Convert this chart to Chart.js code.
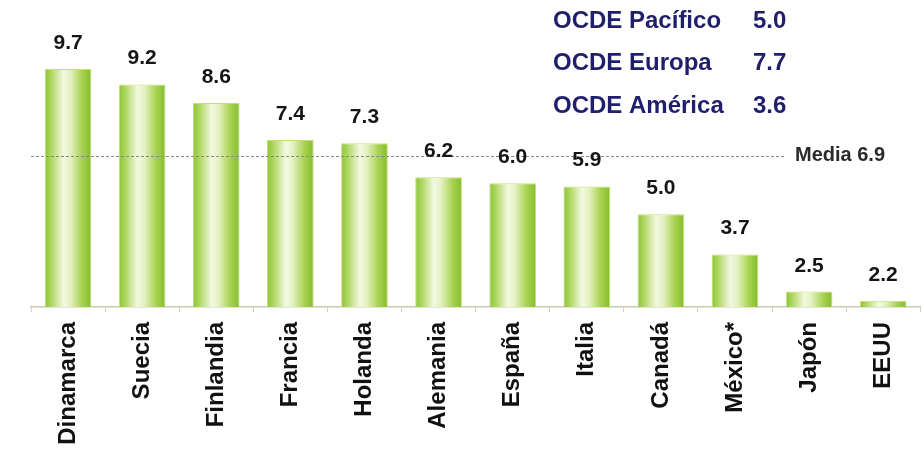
<!DOCTYPE html>
<html>
<head>
<meta charset="utf-8">
<script src="https://cdn.jsdelivr.net/npm/chart.js@4/dist/chart.umd.min.js"></script>
<style>
  html, body { margin: 0; padding: 0; background: #ffffff; }
  #wrap { position: relative; width: 922px; height: 450px; }
</style>
</head>
<body>
<div id="wrap"><canvas id="c" width="922" height="450"></canvas></div>
<script>
// Countries and their values
const countries = ['Dinamarca', 'Suecia', 'Finlandia', 'Francia', 'Holanda', 'Alemania',
                   'España', 'Italia', 'Canadá', 'México*', 'Japón', 'EEUU'];
const values = [9.7, 9.2, 8.6, 7.4, 7.3, 6.2, 6.0, 5.9, 5.0, 3.7, 2.5, 2.2];

// Regional averages shown in the corner box
const regionNames = ['OCDE Pacífico', 'OCDE Europa', 'OCDE América'];
const regionValues = [5.0, 7.7, 3.6];

// Overall mean
const meanLabel = 'Media';
const meanValue = 6.9;

const FONT = "'Liberation Sans', Arial, Helvetica, sans-serif";
const BAR_PCT = 0.63;

// Horizontal cylinder-like shading, one gradient per bar
function barFill(c) {
  if (c.type !== 'data') return '#a8d250';
  const xs = c.chart.scales.x;
  if (!xs || !isFinite(xs.width)) return '#a8d250';
  const cx = xs.getPixelForValue(c.dataIndex);
  const w = (xs.width / countries.length) * BAR_PCT;
  const g = c.chart.ctx.createLinearGradient(cx - w / 2, 0, cx + w / 2, 0);
  g.addColorStop(0.00, '#8cc43a');
  g.addColorStop(0.12, '#a9d457');
  g.addColorStop(0.40, '#f3f9e2');
  g.addColorStop(0.55, '#e4f1c2');
  g.addColorStop(0.80, '#a8d250');
  g.addColorStop(1.00, '#84bd2c');
  return g;
}

// Mean line, value labels and regional box
const annotations = {
  id: 'annotations',
  afterDatasetsDraw(chart) {
    const ctx = chart.ctx;
    const y = chart.scales.y;
    const area = chart.chartArea;

    // dotted mean line
    const ym = Math.round(y.getPixelForValue(meanValue)) + 0.5;
    ctx.save();
    ctx.strokeStyle = '#8a8a80';
    ctx.lineWidth = 1.2;
    ctx.setLineDash([3, 2]);
    ctx.beginPath();
    ctx.moveTo(area.left, ym);
    ctx.lineTo(784, ym);
    ctx.stroke();
    ctx.setLineDash([]);
    ctx.fillStyle = '#2a2a2a';
    ctx.font = 'bold 20px ' + FONT;
    ctx.textAlign = 'left';
    ctx.textBaseline = 'alphabetic';
    ctx.fillText(meanLabel + ' ' + meanValue.toFixed(1), 795, ym + 4);

    // value labels above bars
    ctx.fillStyle = '#151515';
    ctx.font = 'bold 21px ' + FONT;
    ctx.textAlign = 'center';
    chart.getDatasetMeta(0).data.forEach((el, i) => {
      ctx.fillText(values[i].toFixed(1), el.x, el.y - 20);
    });

    // regional averages
    ctx.fillStyle = '#1f1f6b';
    ctx.font = 'bold 24px ' + FONT;
    ctx.textAlign = 'left';
    const rows = [28, 70, 113];
    regionNames.forEach((name, i) => {
      ctx.fillText(name, 553, rows[i]);
      ctx.fillText(regionValues[i].toFixed(1), 753, rows[i]);
    });
    ctx.restore();
  }
};

new Chart(document.getElementById('c'), {
  type: 'bar',
  data: {
    labels: countries,
    datasets: [{
      data: values,
      backgroundColor: barFill,
      borderColor: '#c4df74',
      borderWidth: 1,
      barPercentage: BAR_PCT,
      categoryPercentage: 1.0
    }]
  },
  options: {
    responsive: false,
    animation: false,
    devicePixelRatio: 1,
    layout: { padding: { left: 31, right: -3, top: 1, bottom: 0 } },
    plugins: { legend: { display: false }, tooltip: { enabled: false } },
    scales: {
      y: {
        display: false,
        min: 2,
        max: 11.9
      },
      x: {
        afterFit(scale) { scale.height = 143; },
        grid: {
          display: true,
          drawOnChartArea: false,
          drawTicks: true,
          tickLength: 5,
          color: '#cfd2bc',
          offset: true
        },
        border: { display: true, color: '#c8cbb0', width: 1.5 },
        ticks: {
          minRotation: 90,
          maxRotation: 90,
          autoSkip: false,
          padding: 10,
          color: '#111111',
          font: { family: FONT, size: 24, weight: 'bold' }
        }
      }
    }
  },
  plugins: [annotations]
});
</script>
</body>
</html>
